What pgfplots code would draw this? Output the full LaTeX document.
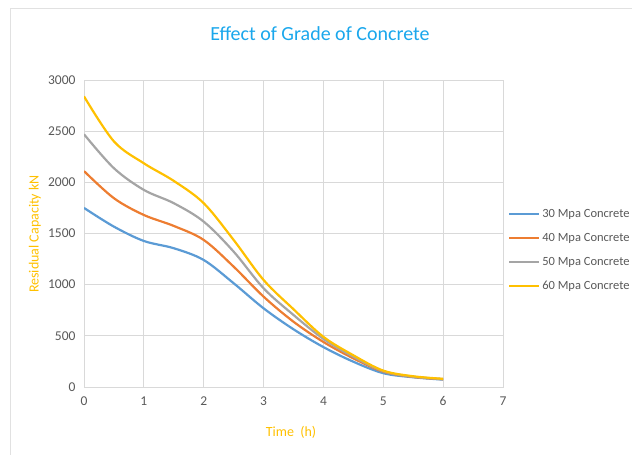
\documentclass[border=0pt]{standalone}
\usepackage{fontspec}
\setmainfont{Carlito}
\usepackage{pgfplots}
\pgfplotsset{compat=1.18}
\usepackage{pgfplotstable}
\definecolor{sBlue}{HTML}{5B9BD5}
\definecolor{sOrange}{HTML}{ED7D31}
\definecolor{sGray}{HTML}{A5A5A5}
\definecolor{sGold}{HTML}{FFC000}
\definecolor{titleBlue}{HTML}{1AA7EC}
\definecolor{gridC}{HTML}{D9D9D9}
\definecolor{tickC}{HTML}{595959}
\pgfplotstableread{
x    c30   c40   c50   c60
0    1750  2110  2470  2840
0.5  1567  1845  2138  2400
1    1427  1681  1926  2186
1.5  1356  1574  1796  2014
2    1241  1437  1616  1796
2.5  1014  1176  1323  1437
3    769   883   965   1046
3.5  564   638   704   760
4    390   440   470   490
4.5  247   280   296   310
5    135   150   155   160
5.5  95    98    100   105
6    72    76    78    80
}\datatable
\begin{document}
\begin{tikzpicture}
\path[use as bounding box] (0pt,0pt) rectangle (632pt,455pt);
\draw[gridC!80, line width=0.8pt] (10.5pt,0pt) -- (10.5pt,446.5pt) -- (632pt,446.5pt);
\node[text=titleBlue, font=\fontsize{20}{24}\selectfont] at (320pt,421pt) {Effect of Grade of Concrete};
\begin{axis}[
  at={(84pt,68pt)}, anchor=south west,
  scale only axis, width=419pt, height=307pt,
  xmin=0, xmax=7, ymin=0, ymax=3000,
  xtick={0,1,...,7}, ytick={0,500,...,3000},
  grid=major, major grid style={gridC, line width=0.8pt},
  axis line style={gridC, line width=0.8pt},
  major tick length=0pt,
  tick label style={text=tickC, font=\fontsize{13.5}{16}\selectfont},
  /pgf/number format/assume math mode=true,
  /pgf/number format/1000 sep={},
  yticklabel style={xshift=-5pt},
  xticklabel style={yshift=-6pt},
  legend style={at={(1.005,0.446)}, anchor=west, draw=none, fill=none,
    font=\fontsize{12.5}{15}\selectfont, row sep=10.5pt, text=tickC},
  legend cell align=left,
  legend image code/.code={\draw[#1, line width=2pt] (0pt,0pt) -- (30pt,0pt);},
  every axis plot/.append style={line width=2.2pt, smooth, tension=0.55},
]
\addplot[sBlue] table[x=x,y=c30] {\datatable};
\addlegendentry{30 Mpa Concrete}
\addplot[sOrange] table[x=x,y=c40] {\datatable};
\addlegendentry{40 Mpa Concrete}
\addplot[sGray] table[x=x,y=c50] {\datatable};
\addlegendentry{50 Mpa Concrete}
\addplot[sGold] table[x=x,y=c60] {\datatable};
\addlegendentry{60 Mpa Concrete}
\end{axis}
\node[text=sGold, font=\fontsize{14}{16}\selectfont] at (291pt,23pt) {Time\ \ (h)};
\node[text=sGold, font=\fontsize{14}{16}\selectfont, rotate=90] at (35pt,221pt) {Residual Capacity kN};
\end{tikzpicture}
\end{document}
